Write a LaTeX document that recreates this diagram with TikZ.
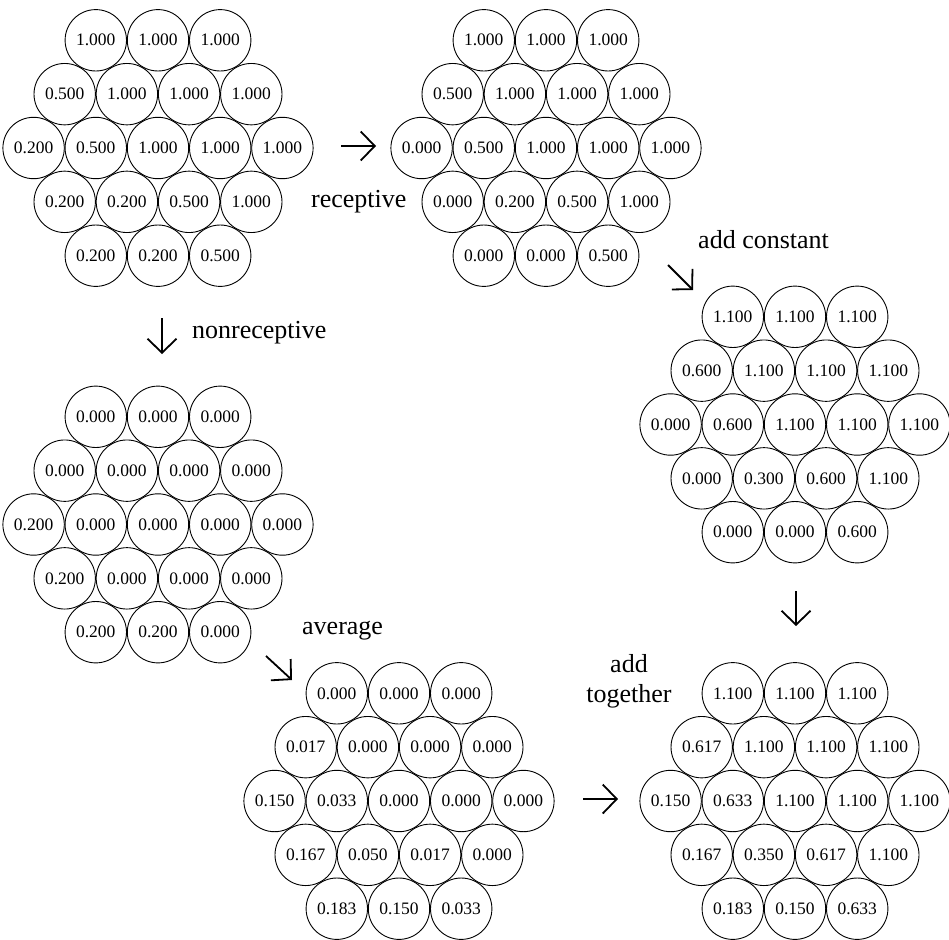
\documentclass[tikz,border=0pt]{standalone}
\usepackage{fontspec}
\setmainfont{Liberation Serif}
\usetikzlibrary{arrows.meta}
\newcommand{\cellsp}{62.2}
\newcommand{\cellrh}{53.85}
\newcommand{\hexrow}[6]{%
  \foreach \v [count=\i] in {#6} {
    \node[cell] (#1-#2-\i) at ({#3+(\i-(#5+1)/2)*\cellsp}, {#4}) {\v};
  }%
}
\newcommand{\hexgrid}[8]{%
  \hexrow{#1}{1}{#2}{#3-2*\cellrh}{3}{#4}%
  \hexrow{#1}{2}{#2}{#3-\cellrh}{4}{#5}%
  \hexrow{#1}{3}{#2}{#3}{5}{#6}%
  \hexrow{#1}{4}{#2}{#3+\cellrh}{4}{#7}%
  \hexrow{#1}{5}{#2}{#3+2*\cellrh}{3}{#8}%
}
\begin{document}
\begin{tikzpicture}[x=1pt, y=-1pt,
  cell/.style={circle, draw, line width=0.9pt, minimum size=61.4pt, inner sep=0pt,
    font=\fontsize{17.5}{20}\selectfont},
  lbl/.style={inner sep=0pt, font=\fontsize{26}{30}\selectfont},
  flow/.style={line width=1.8pt, -{Straight Barb[length=14pt, width=29pt]}}]
\useasboundingbox (0,0) rectangle (949,939);
\fill[white] (0,0) rectangle (949,939);
% grids
\hexgrid{ga}{158}{148}{1.000,1.000,1.000}{0.500,1.000,1.000,1.000}{0.200,0.500,1.000,1.000,1.000}{0.200,0.200,0.500,1.000}{0.200,0.200,0.500}
\hexgrid{gb}{546}{148}{1.000,1.000,1.000}{0.500,1.000,1.000,1.000}{0.000,0.500,1.000,1.000,1.000}{0.000,0.200,0.500,1.000}{0.000,0.000,0.500}
\hexgrid{gc}{795}{424.5}{1.100,1.100,1.100}{0.600,1.100,1.100,1.100}{0.000,0.600,1.100,1.100,1.100}{0.000,0.300,0.600,1.100}{0.000,0.000,0.600}
\hexgrid{gd}{158}{524.5}{0.000,0.000,0.000}{0.000,0.000,0.000,0.000}{0.200,0.000,0.000,0.000,0.000}{0.200,0.000,0.000,0.000}{0.200,0.200,0.000}
\hexgrid{ge}{399}{801}{0.000,0.000,0.000}{0.017,0.000,0.000,0.000}{0.150,0.033,0.000,0.000,0.000}{0.167,0.050,0.017,0.000}{0.183,0.150,0.033}
\hexgrid{gf}{795}{801}{1.100,1.100,1.100}{0.617,1.100,1.100,1.100}{0.150,0.633,1.100,1.100,1.100}{0.167,0.350,0.617,1.100}{0.183,0.150,0.633}
% arrows
\coordinate (a1s) at (341,146); \coordinate (a1e) at (376,146);
\coordinate (a2s) at (668,265); \coordinate (a2e) at (693,290);
\coordinate (a3s) at (162,318); \coordinate (a3e) at (162,354);
\coordinate (a4s) at (266,656); \coordinate (a4e) at (292,680);
\coordinate (a5s) at (796,591); \coordinate (a5e) at (796,626);
\coordinate (a6s) at (583,799); \coordinate (a6e) at (618,799);
\draw[flow] (a1s) -- (a1e);
\draw[flow] (a2s) -- (a2e);
\draw[flow] (a3s) -- (a3e);
\draw[flow] (a4s) -- (a4e);
\draw[flow] (a5s) -- (a5e);
\draw[flow] (a6s) -- (a6e);
% labels
\node[lbl, anchor=base west] (lrec) at (311,207) {receptive};
\node[lbl, anchor=base west] (lcon) at (698,248) {add constant};
\node[lbl, anchor=base west] (lnon) at (192,338) {nonreceptive};
\node[lbl, anchor=base west] (lavg) at (302,634) {average};
\node[lbl, anchor=base, align=center] (ltog) at (629,702) {add\\together};
\end{tikzpicture}
\end{document}
